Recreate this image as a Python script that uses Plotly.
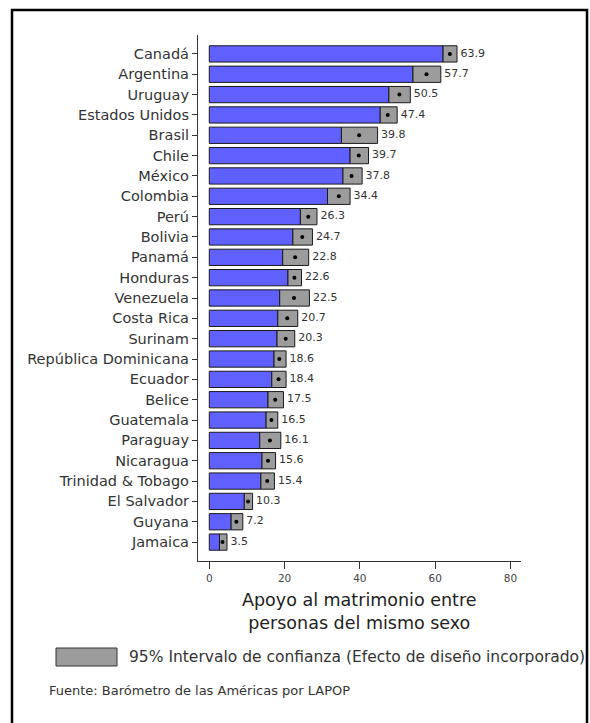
import plotly.graph_objects as go

countries = ["Canadá", "Argentina", "Uruguay", "Estados Unidos", "Brasil", "Chile", "México",
             "Colombia", "Perú", "Bolivia", "Panamá", "Honduras", "Venezuela", "Costa Rica",
             "Surinam", "República Dominicana", "Ecuador", "Belice", "Guatemala", "Paraguay",
             "Nicaragua", "Trinidad & Tobago", "El Salvador", "Guyana", "Jamaica"]
means = [63.9, 57.7, 50.5, 47.4, 39.8, 39.7, 37.8, 34.4, 26.3, 24.7, 22.8, 22.6, 22.5, 20.7,
         20.3, 18.6, 18.4, 17.5, 16.5, 16.1, 15.6, 15.4, 10.3, 7.2, 3.5]
ci_low = [62.1, 54.1, 47.7, 45.4, 35.1, 37.4, 35.5, 31.4, 24.2, 22.2, 19.5, 20.9, 18.7, 18.2,
          18.0, 17.2, 16.6, 15.6, 15.1, 13.4, 14.0, 13.7, 9.3, 5.8, 2.7]
ci_high = [65.8, 61.5, 53.4, 49.9, 44.7, 42.3, 40.6, 37.4, 28.6, 27.4, 26.4, 24.5, 26.6, 23.5,
           22.7, 20.4, 20.4, 19.7, 18.2, 19.0, 17.6, 17.3, 11.5, 8.9, 4.7]
x_ticks = [0, 20, 40, 60, 80]

FONT = "DejaVu Sans"
BLUE = "#6060ff"
GRAY = "#9c9c9c"

fig = go.Figure()
fig.add_trace(go.Bar(
    y=countries, x=ci_low, base=0, orientation="h", width=0.8,
    marker=dict(color=BLUE, line=dict(color="#1a1a1a", width=1)),
    showlegend=False, hoverinfo="skip"))
fig.add_trace(go.Bar(
    y=countries, x=[h - l for h, l in zip(ci_high, ci_low)], base=ci_low,
    orientation="h", width=0.8,
    marker=dict(color=GRAY, line=dict(color="#1a1a1a", width=1)),
    showlegend=False, hoverinfo="skip"))
fig.add_trace(go.Scatter(
    y=countries, x=means, mode="markers",
    marker=dict(color="black", size=4), showlegend=False, hoverinfo="skip"))
fig.add_trace(go.Scatter(
    y=countries, x=ci_high, mode="text", text=[f" {m:.1f}" for m in means],
    textposition="middle right", textfont=dict(family=FONT, size=11, color="#333333"),
    showlegend=False, hoverinfo="skip", cliponaxis=False))

# plot area in pixels: left 198, right 521, top 35, bottom 561
W, H = 590, 723
L, R, T, B = 198, 521, 35, 561


def px(xp):
    return (xp - L) / (R - L)


def py(yp):
    return (B - yp) / (B - T)


fig.update_layout(
    width=W, height=H,
    margin=dict(l=L, r=W - R, t=T, b=H - B),
    paper_bgcolor="white", plot_bgcolor="white",
    barmode="overlay",
    font=dict(family=FONT, color="#333333"),
    xaxis=dict(range=[-3.0, 82.8], tickvals=x_ticks, showgrid=False, zeroline=False,
               showline=True, linecolor="#333333", linewidth=1.2,
               ticks="outside", ticklen=7, tickcolor="#333333",
               tickfont=dict(family=FONT, size=10.5, color="#444444")),
    yaxis=dict(type="category", categoryorder="array", categoryarray=countries[::-1],
               range=[-0.93, len(countries) - 1 + 0.93], showgrid=False, zeroline=False,
               showline=True, linecolor="#333333", linewidth=1.2,
               ticks="outside", ticklen=5, tickcolor="#333333",
               tickfont=dict(family=FONT, size=14.5, color="#333333")),
    shapes=[
        dict(type="rect", xref="paper", yref="paper",
             x0=px(12), x1=px(587), y0=py(10), y1=py(740),
             line=dict(color="black", width=2.5), fillcolor="rgba(0,0,0,0)", layer="above"),
        dict(type="rect", xref="paper", yref="paper",
             x0=px(56), x1=px(117), y0=py(648), y1=py(666),
             line=dict(color="#333333", width=1), fillcolor=GRAY),
    ],
    annotations=[
        dict(xref="paper", yref="paper", x=0.5, y=py(612),
             text="Apoyo al matrimonio entre<br>personas del mismo sexo",
             showarrow=False, xanchor="center", yanchor="middle",
             font=dict(family=FONT, size=17.5, color="#222222")),
        dict(xref="paper", yref="paper", x=px(127), y=py(657),
             text="95% Intervalo de confianza (Efecto de diseño incorporado)",
             showarrow=False, xanchor="left", yanchor="middle",
             font=dict(family=FONT, size=15.5, color="#333333")),
        dict(xref="paper", yref="paper", x=px(47), y=py(690),
             text="Fuente: Barómetro de las Américas por LAPOP",
             showarrow=False, xanchor="left", yanchor="middle",
             font=dict(family=FONT, size=13, color="#333333")),
    ],
)

fig.write_html("out.html", config={"displayModeBar": False},
               post_script="document.body.style.margin='0';")
